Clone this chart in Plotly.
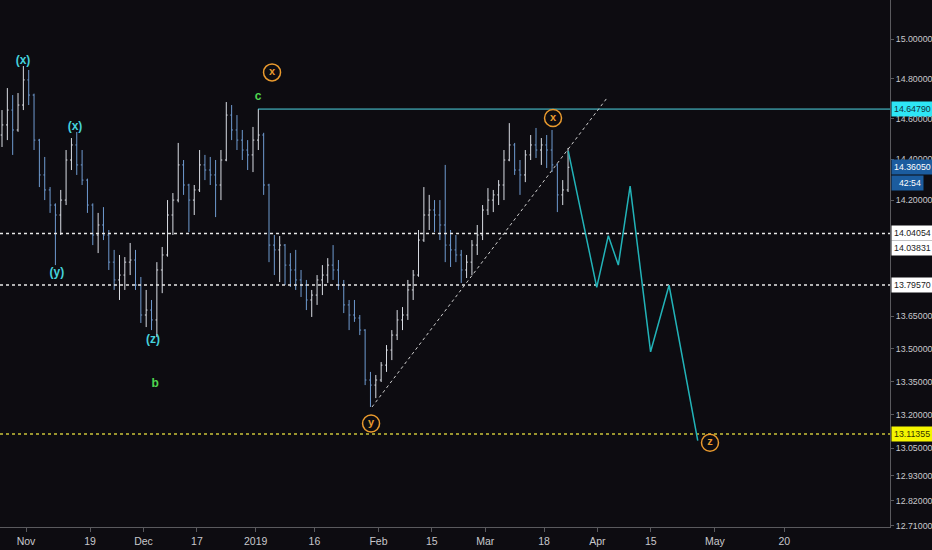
import math
import pandas as pd
import plotly.graph_objects as go

# daily bars, 25 Oct 2018 .. 22 Mar 2019 (weekdays)
bar_dates = pd.bdate_range("2018-10-25", "2019-03-22") + pd.Timedelta(hours=12)

opens = [14.519, 14.569, 14.643, 14.544, 14.668, 14.794, 14.718, 14.494, 14.323, 14.250,
         14.177, 14.129, 14.201, 14.396, 14.470, 14.372, 14.298, 14.177, 14.033, 14.081,
         14.033, 13.904, 13.820, 13.843, 13.904, 13.914, 13.796, 13.656, 13.679, 13.633,
         13.867, 13.938, 14.129, 14.201, 14.372, 14.274, 14.201, 14.250, 14.372, 14.347,
         14.323, 14.274, 14.396, 14.618, 14.544, 14.494, 14.445, 14.421, 14.494, 14.519,
         14.274, 13.985, 13.962, 13.985, 13.890, 13.867, 13.820, 13.796, 13.726, 13.749,
         13.820, 13.843, 13.890, 13.867, 13.796, 13.703, 13.656, 13.642, 13.586, 13.357,
         13.334, 13.357, 13.425, 13.494, 13.563, 13.633, 13.656, 13.773, 13.843, 14.009,
         14.129, 14.153, 14.129, 14.081, 13.985, 13.962, 13.938, 13.867, 13.904, 13.985,
         14.033, 14.153, 14.201, 14.226, 14.274, 14.396, 14.470, 14.347, 14.323, 14.421,
         14.470, 14.445, 14.470, 14.445, 14.372, 14.226, 14.250]
highs = [14.643, 14.753, 14.718, 14.728, 14.864, 14.844, 14.725, 14.500, 14.411, 14.264,
         14.185, 14.250, 14.445, 14.504, 14.534, 14.445, 14.305, 14.185, 14.139, 14.167,
         14.057, 13.962, 13.938, 13.928, 13.995, 13.962, 13.834, 13.773, 13.726, 13.904,
         13.976, 14.201, 14.235, 14.480, 14.396, 14.280, 14.274, 14.445, 14.421, 14.411,
         14.396, 14.445, 14.683, 14.668, 14.618, 14.544, 14.494, 14.559, 14.6479, 14.530,
         14.280, 14.033, 14.028, 13.990, 13.947, 13.962, 13.867, 13.820, 13.773, 13.843,
         13.890, 13.923, 13.985, 13.914, 13.820, 13.726, 13.726, 13.656, 13.590, 13.394,
         13.380, 13.439, 13.517, 13.586, 13.679, 13.693, 13.820, 13.867, 14.057, 14.264,
         14.226, 14.201, 14.201, 14.372, 14.057, 14.033, 13.962, 13.938, 14.009, 14.081,
         14.177, 14.259, 14.250, 14.298, 14.445, 14.578, 14.480, 14.396, 14.445, 14.519,
         14.554, 14.504, 14.519, 14.544, 14.380, 14.298, 14.455]
lows = [14.460, 14.494, 14.421, 14.535, 14.643, 14.668, 14.445, 14.264, 14.201, 14.139,
        13.890, 14.033, 14.177, 14.347, 14.323, 14.274, 14.139, 13.985, 13.947, 14.009,
        13.867, 13.773, 13.726, 13.773, 13.843, 13.773, 13.619, 13.600, 13.586, 13.554,
        13.758, 13.930, 14.033, 14.190, 14.226, 14.047, 14.129, 14.240, 14.298, 14.274,
        14.119, 14.201, 14.390, 14.494, 14.445, 14.396, 14.347, 14.337, 14.445, 14.226,
        13.904, 13.843, 13.810, 13.796, 13.787, 13.773, 13.740, 13.679, 13.647, 13.703,
        13.749, 13.806, 13.820, 13.773, 13.665, 13.586, 13.624, 13.563, 13.334, 13.235,
        13.275, 13.348, 13.394, 13.448, 13.540, 13.586, 13.633, 13.726, 13.835, 14.000,
        14.057, 14.047, 14.009, 13.904, 13.881, 13.904, 13.806, 13.829, 13.843, 13.938,
        14.009, 14.129, 14.143, 14.177, 14.201, 14.390, 14.323, 14.226, 14.288, 14.396,
        14.406, 14.372, 14.357, 14.337, 14.143, 14.177, 14.240]
closes = [14.569, 14.643, 14.544, 14.668, 14.794, 14.718, 14.494, 14.323, 14.250, 14.177,
          14.129, 14.201, 14.396, 14.470, 14.372, 14.298, 14.177, 14.033, 14.081, 14.033,
          13.904, 13.820, 13.843, 13.904, 13.914, 13.796, 13.656, 13.679, 13.633, 13.867,
          13.938, 14.129, 14.201, 14.372, 14.274, 14.201, 14.250, 14.372, 14.347, 14.323,
          14.274, 14.396, 14.618, 14.544, 14.494, 14.445, 14.421, 14.494, 14.519, 14.274,
          13.985, 13.962, 13.985, 13.890, 13.867, 13.820, 13.796, 13.726, 13.749, 13.820,
          13.843, 13.890, 13.867, 13.796, 13.703, 13.656, 13.642, 13.586, 13.357, 13.334,
          13.357, 13.425, 13.494, 13.563, 13.633, 13.656, 13.773, 13.843, 14.009, 14.129,
          14.153, 14.129, 14.081, 13.985, 13.962, 13.938, 13.867, 13.904, 13.985, 14.033,
          14.153, 14.201, 14.226, 14.274, 14.396, 14.470, 14.347, 14.323, 14.421, 14.470,
          14.445, 14.470, 14.445, 14.372, 14.226, 14.250, 14.3605]

# projected path (cyan zigzag)
proj_x = ["2019-03-22 13:00", "2019-03-29 21:00", "2019-04-03 01:00", "2019-04-04 22:00",
          "2019-04-09 03:00", "2019-04-12 23:00", "2019-04-18 10:00", "2019-04-25 19:00"]
proj_y = [14.440, 13.785, 14.030, 13.890, 14.269, 13.486, 13.795, 13.084]

# trend line
trend_x = ["2019-01-30 19:00", "2019-04-02 19:00"]
trend_y = [13.235, 14.703]

# levels
level_top = 14.64790
level_top_start = "2019-01-01 10:48"
levels_white = [14.04054, 13.79570]
level_yellow = 13.11355
last_price = 14.36050

# wave labels
cyan_txt = ["(x)", "(x)", "(y)", "(z)"]
cyan_x = ["2018-10-31 10:30", "2018-11-14 04:00", "2018-11-08 19:00", "2018-12-04 19:00"]
cyan_y = [14.890, 14.559, 13.852, 13.540]
green_txt = ["c", "b"]
green_x = ["2019-01-01 10:48", "2018-12-05 04:00"]
green_y = [14.708, 13.339]
circ_txt = ["x", "x", "y", "z"]
circ_x = ["2019-01-04 01:40", "2019-03-19 16:30", "2019-01-30 14:40", "2019-04-30 02:00"]
circ_y = [14.832, 14.603, 13.161, 13.075]

tick_vals = [15.0, 14.8, 14.6, 14.4, 14.2, 13.65, 13.5, 13.35, 13.2, 13.05, 12.93, 12.82, 12.71]
xtick_dates = ["2018-11-01", "2018-11-19", "2018-12-03", "2018-12-17", "2019-01-01", "2019-01-16",
               "2019-02-01", "2019-02-15", "2019-03-01", "2019-03-18", "2019-04-01", "2019-04-15",
               "2019-05-01", "2019-05-20"]
xtick_text = ["Nov", "19", "Dec", "17", "2019", "16", "Feb", "15", "Mar", "18", "Apr", "15", "May", "20"]

x_range = ["2018-10-25 03:00", "2019-06-14 19:00"]
y_range = [12.7050, 15.2021]

bg = '#0d0c11'
font_name = "Liberation Sans"
axis_size = 8.8

fig = go.Figure()

fig.add_trace(go.Ohlc(
    x=bar_dates, open=opens, high=highs, low=lows, close=closes,
    increasing=dict(line=dict(color='#d9dde4', width=1)),
    decreasing=dict(line=dict(color='#6f9bd0', width=1)),
    tickwidth=0.25,
    hoverinfo='skip',
))

# horizontal levels
for lv in levels_white:
    fig.add_trace(go.Scatter(x=x_range, y=[lv, lv], mode='lines',
                             line=dict(color='#e8e8e8', width=1.5, dash='dot'), hoverinfo='skip'))
fig.add_trace(go.Scatter(x=x_range, y=[level_yellow, level_yellow], mode='lines',
                         line=dict(color='#c9c23a', width=1.5, dash='dot'), hoverinfo='skip'))
fig.add_trace(go.Scatter(x=[level_top_start, x_range[1]], y=[level_top, level_top], mode='lines',
                         line=dict(color='#4fd6e4', width=1), hoverinfo='skip'))

# trend line
fig.add_trace(go.Scatter(x=trend_x, y=trend_y, mode='lines',
                         line=dict(color='#cfcfcf', width=1, dash='dot'), hoverinfo='skip'))

# projection
fig.add_trace(go.Scatter(x=proj_x, y=proj_y, mode='lines',
                         line=dict(color='#22b3b8', width=1.5), hoverinfo='skip'))

# wave labels
fig.add_trace(go.Scatter(x=cyan_x, y=cyan_y, mode='text', text=["<b>" + t + "</b>" for t in cyan_txt],
                         textfont=dict(color='#45d2dc', size=12, family=font_name), hoverinfo='skip'))
fig.add_trace(go.Scatter(x=green_x, y=green_y, mode='text', text=["<b>" + t + "</b>" for t in green_txt],
                         textfont=dict(color='#4fd64f', size=12, family=font_name), hoverinfo='skip'))
fig.add_trace(go.Scatter(x=circ_x, y=circ_y, mode='markers+text', text=["<b>" + t + "</b>" for t in circ_txt],
                         textposition='middle center',
                         marker=dict(symbol='circle-open', size=17, color='#e99a2e', line=dict(width=1.5)),
                         textfont=dict(color='#e99a2e', size=11, family=font_name), hoverinfo='skip'))

# price boxes on the axis
def price_box(value, bgc, fc, yshift=0, text=None):
    fig.add_annotation(
        xref='paper', x=1, xanchor='left', xshift=1,
        yref='y', y=math.log10(value), yshift=yshift,
        text=text if text else f"{value:.5f}",
        showarrow=False,
        bgcolor=bgc, borderpad=2,
        font=dict(color=fc, size=axis_size, family=font_name),
    )


price_box(level_top, '#2ee6f5', '#10343a')
price_box(last_price, '#1b5c9e', '#ffffff')
price_box(last_price, '#1b5c9e', '#ffffff', yshift=-16, text="  42:54")
price_box(levels_white[0], '#ffffff', '#222222')
price_box(14.03831, '#ffffff', '#222222', yshift=-14)
price_box(levels_white[1], '#ffffff', '#222222')
price_box(level_yellow, '#f5f500', '#333300')

fig.update_layout(
    width=932, height=550,
    margin=dict(l=0, r=42, t=0, b=23, pad=0, autoexpand=False),
    paper_bgcolor=bg, plot_bgcolor=bg,
    showlegend=False,
    font=dict(family=font_name, color='#c8c8cc', size=11),
)

fig.update_xaxes(
    type='date', range=x_range,
    rangebreaks=[dict(bounds=["sat", "mon"])],
    rangeslider=dict(visible=False),
    tickmode='array', tickvals=xtick_dates, ticktext=xtick_text,
    showgrid=False, zeroline=False,
    showline=True, linecolor='#5a5a5e', linewidth=1,
    ticks='outside', ticklen=4, tickcolor='#5a5a5e',
    tickfont=dict(size=10.5, color='#c8c8cc', family=font_name),
    automargin=False,
)

fig.update_yaxes(
    type='log', side='right',
    range=[math.log10(y_range[0]), math.log10(y_range[1])],
    tickmode='array', tickvals=tick_vals, ticktext=[f"{v:.5f}" for v in tick_vals],
    showgrid=False, zeroline=False,
    showline=True, linecolor='#5a5a5e', linewidth=1,
    ticks='outside', ticklen=3, tickcolor='#5a5a5e',
    tickfont=dict(size=axis_size, color='#c8c8cc', family=font_name),
    automargin=False,
)

# drop the browser's default page margin so the 932x550 figure fills the window
fig.write_html("out.html", config={'displayModeBar': False},
               post_script="document.body.style.margin='0';document.body.style.background='%s';" % bg)
